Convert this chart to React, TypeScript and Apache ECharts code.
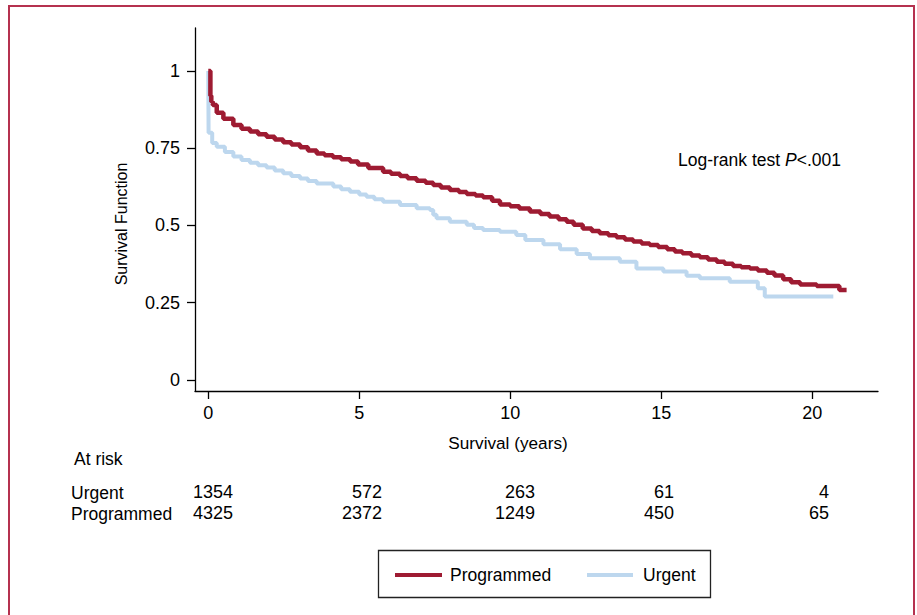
import React, { useEffect, useRef } from "react";
import * as echarts from "echarts";

// ---- data ----
const progTime = [0, 0.07, 0.1, 0.15, 0.28, 0.5, 0.83, 1.1, 1.38, 1.65, 1.93, 2.2, 2.48, 2.75, 3.04, 3.3, 3.59, 3.85, 4.13, 4.4, 4.7, 4.96, 5.3, 5.79, 6.05, 6.35, 6.6, 6.9, 7.2, 7.45, 7.7, 8.0, 8.3, 8.56, 8.85, 9.1, 9.4, 9.66, 10.0, 10.3, 10.65, 11.0, 11.3, 11.6, 11.87, 12.1, 12.4, 12.7, 12.96, 13.25, 13.52, 13.8, 14.07, 14.35, 14.62, 14.9, 15.2, 15.45, 15.7, 16.0, 16.28, 16.55, 16.84, 17.1, 17.38, 17.65, 17.94, 18.2, 18.5, 18.75, 19.04, 19.3, 19.6, 20.15, 20.9, 21.14];
const progSurv = [1.0, 0.92, 0.9, 0.89, 0.865, 0.845, 0.825, 0.813, 0.804, 0.795, 0.787, 0.778, 0.769, 0.762, 0.753, 0.743, 0.733, 0.727, 0.721, 0.714, 0.707, 0.697, 0.686, 0.674, 0.667, 0.66, 0.653, 0.645, 0.638, 0.631, 0.623, 0.615, 0.608, 0.602, 0.597, 0.591, 0.58, 0.568, 0.562, 0.555, 0.545, 0.537, 0.529, 0.52, 0.512, 0.502, 0.49, 0.482, 0.475, 0.468, 0.462, 0.455, 0.448, 0.442, 0.437, 0.43, 0.423, 0.416, 0.41, 0.403, 0.397, 0.39, 0.383, 0.376, 0.369, 0.365, 0.361, 0.354, 0.347, 0.338, 0.326, 0.316, 0.309, 0.304, 0.291, 0.291];

const urgTime = [0, 0.005, 0.01, 0.13, 0.28, 0.55, 0.83, 1.1, 1.38, 1.65, 1.93, 2.2, 2.48, 2.75, 3.04, 3.3, 3.59, 4.14, 4.4, 4.69, 5.0, 5.24, 5.5, 5.79, 6.35, 6.9, 7.34, 7.45, 7.56, 8.0, 8.56, 8.8, 9.1, 9.66, 10.2, 10.5, 11.1, 11.65, 12.2, 12.64, 13.63, 14.18, 15.07, 15.84, 16.28, 17.27, 18.2, 18.43, 20.7];
const urgSurv = [1.0, 0.9, 0.8, 0.767, 0.755, 0.738, 0.723, 0.712, 0.703, 0.695, 0.688, 0.678, 0.669, 0.66, 0.652, 0.644, 0.636, 0.626, 0.617, 0.609, 0.6, 0.593, 0.585, 0.577, 0.566, 0.556, 0.55, 0.535, 0.523, 0.512, 0.502, 0.492, 0.485, 0.48, 0.469, 0.453, 0.439, 0.423, 0.408, 0.394, 0.383, 0.361, 0.351, 0.337, 0.329, 0.318, 0.297, 0.27, 0.27];

const xTicks = [0, 5, 10, 15, 20];
const yTicks = [0, 0.25, 0.5, 0.75, 1];

const riskUrgent = [1354, 572, 263, 61, 4];
const riskProgrammed = [4325, 2372, 1249, 450, 65];

// ---- layout / style ----
const FONT = '"Liberation Sans", Arial, Helvetica, sans-serif';
const RED = "#9e1b32";
const BLUE = "#bdd7ee";
const riskColRight = [233, 382, 535, 674, 829];

export default function App() {
  const ref = useRef<HTMLDivElement>(null);
  useEffect(() => {
    const chart = echarts.init(ref.current!, null, { renderer: "svg" });
    const axisCommon = {
      type: "value",
      splitLine: { show: false },
      axisLine: { show: true, onZero: false, lineStyle: { color: "#000", width: 1.3 } },
    };
    const txt = (text: string, x: number, y: number, size: number, align = "left") => ({
      type: "text",
      x,
      y,
      style: { text, fontSize: size, fontFamily: FONT, fill: "#000", align, verticalAlign: "middle" },
    });
    const graphics: any[] = [
      { type: "rect", shape: { x: 9, y: 6, width: 905, height: 640 }, style: { fill: "none", stroke: "#b5314f", lineWidth: 2 } },
      {
        type: "text",
        x: 121,
        y: 224,
        rotation: Math.PI / 2,
        style: { text: "Survival Function", fontSize: 16, fontFamily: FONT, fill: "#000", align: "center", verticalAlign: "middle" },
      },
      txt("Survival (years)", 508, 443, 17.2, "center"),
      {
        type: "text",
        x: 678,
        y: 159.5,
        style: {
          text: "Log-rank test {i|P}<.001",
          fontSize: 17.5,
          fontFamily: FONT,
          fill: "#000",
          align: "left",
          verticalAlign: "middle",
          rich: { i: { fontStyle: "italic", fontSize: 17.5, fontFamily: FONT, fill: "#000" } },
        },
      },
      txt("At risk", 74, 459, 17.5),
      txt("Urgent", 71, 493, 17.5),
      txt("Programmed", 71, 514, 17.5),
      // legend
      { type: "rect", shape: { x: 378.5, y: 550.5, width: 332, height: 47 }, style: { fill: "#fff", stroke: "#222", lineWidth: 1.3 } },
      { type: "line", shape: { x1: 395, y1: 575, x2: 442, y2: 575 }, style: { stroke: RED, lineWidth: 4 } },
      txt("Programmed", 450, 575, 17.5),
      { type: "line", shape: { x1: 587, y1: 575, x2: 633, y2: 575 }, style: { stroke: BLUE, lineWidth: 4 } },
      txt("Urgent", 643, 575, 17.5),
    ];
    riskUrgent.forEach((v, i) => graphics.push(txt(String(v), riskColRight[i], 491.5, 18, "right")));
    riskProgrammed.forEach((v, i) => graphics.push(txt(String(v), riskColRight[i], 512.5, 18, "right")));

    chart.setOption({
      animation: false,
      backgroundColor: "#fff",
      grid: { left: 195, top: 28, width: 683, height: 363 },
      xAxis: {
        ...axisCommon,
        min: -0.44,
        max: 22.18,
        axisTick: { show: true, length: 8, customValues: xTicks, lineStyle: { color: "#000", width: 1.3 } },
        axisLabel: { customValues: xTicks, margin: 13, fontSize: 18, fontFamily: FONT, color: "#000" },
      },
      yAxis: {
        ...axisCommon,
        min: -0.0356,
        max: 1.139,
        axisTick: { show: true, length: 8, customValues: yTicks, lineStyle: { color: "#000", width: 1.3 } },
        axisLabel: { customValues: yTicks, margin: 15, fontSize: 18, fontFamily: FONT, color: "#000" },
      },
      series: [
        {
          name: "Urgent",
          type: "line",
          step: "end",
          showSymbol: false,
          data: urgTime.map((t, i) => [t, urgSurv[i]]),
          lineStyle: { color: BLUE, width: 4 },
          itemStyle: { color: BLUE },
        },
        {
          name: "Programmed",
          type: "line",
          step: "end",
          showSymbol: false,
          data: progTime.map((t, i) => [t, progSurv[i]]),
          lineStyle: { color: RED, width: 4.5 },
          itemStyle: { color: RED },
        },
      ],
      graphic: graphics,
    });
    return () => chart.dispose();
  }, []);
  return <div ref={ref} style={{ position: "absolute", left: 0, top: 0, width: 917, height: 615, background: "#fff" }} />;
}
